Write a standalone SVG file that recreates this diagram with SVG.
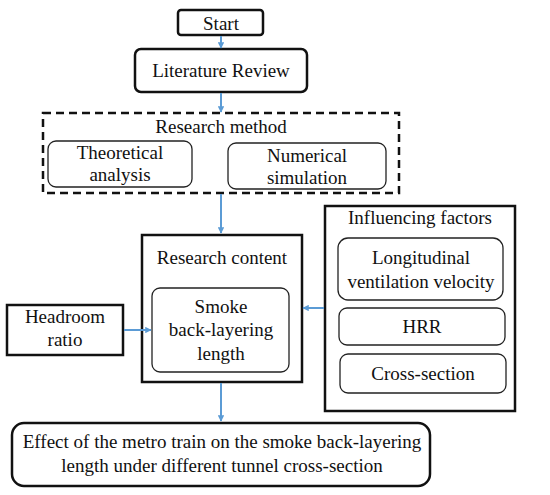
<svg xmlns="http://www.w3.org/2000/svg" width="550" height="495" viewBox="0 0 550 495">
<defs>
<style>
text{font-size:19px;fill:#111;text-anchor:middle}
.thick{fill:#fff;stroke:#111;stroke-width:2.5}
.thin{fill:#fff;stroke:#222;stroke-width:1.3}
.dash{fill:none;stroke:#111;stroke-width:2.5;stroke-dasharray:8,5}
.conn{stroke:#5b9bd5;stroke-width:2;fill:none;marker-end:url(#ah)}
</style>
<marker id="ah" viewBox="0 0 10 10" refX="9" refY="5" markerWidth="3.2" markerHeight="3.2" orient="auto" markerUnits="strokeWidth">
<path d="M0,0 L10,5 L0,10 z" fill="#5b9bd5"/>
</marker>
</defs>
<rect width="550" height="495" fill="#fff"/>
<g font-family="Liberation Serif, Times New Roman, serif">
<g id="start">
<rect class="thick" x="178" y="10" width="85" height="25" rx="3"/>
<text x="221" y="30">Start</text>
</g>
<g id="literature">
<rect class="thick" x="135" y="49" width="172" height="43" rx="6"/>
<text x="221" y="77">Literature Review</text>
</g>
<g id="method">
<rect class="dash" x="43" y="113" width="356" height="80"/>
<text x="221" y="133">Research method</text>
</g>
<g id="theoretical">
<rect class="thin" x="48" y="141" width="144" height="46" rx="8"/>
<text x="120" y="159">Theoretical</text>
<text x="120" y="181">analysis</text>
</g>
<g id="numerical">
<rect class="thin" x="228" y="143" width="158" height="46" rx="8"/>
<text x="307" y="162">Numerical</text>
<text x="307" y="184">simulation</text>
</g>
<g id="content">
<rect class="thick" x="142" y="235" width="160" height="147"/>
<text x="222" y="264">Research content</text>
</g>
<g id="smoke">
<rect class="thin" x="152" y="288" width="137" height="84" rx="8"/>
<text x="221" y="313">Smoke</text>
<text x="221" y="336">back-layering</text>
<text x="221" y="360">length</text>
</g>
<g id="factors">
<rect class="thick" x="325" y="206" width="190" height="205"/>
<text x="420" y="224">Influencing factors</text>
</g>
<g id="longitudinal">
<rect class="thin" x="338" y="238" width="165" height="62" rx="10"/>
<text x="421" y="264">Longitudinal</text>
<text x="421" y="288">ventilation velocity</text>
</g>
<g id="hrr">
<rect class="thin" x="339" y="308" width="166" height="37" rx="8"/>
<text x="422" y="333">HRR</text>
</g>
<g id="cross">
<rect class="thin" x="340" y="354" width="166" height="39" rx="8"/>
<text x="423" y="380">Cross-section</text>
</g>
<g id="headroom">
<rect class="thick" x="7" y="305" width="116" height="50"/>
<text x="65" y="323">Headroom</text>
<text x="65" y="346">ratio</text>
</g>
<g id="effect">
<rect class="thick" x="12" y="423" width="418" height="63" rx="12"/>
<text x="222" y="448">Effect of the metro train on the smoke back-layering</text>
<text x="222" y="472">length under different tunnel cross-section</text>
</g>
</g>
<g id="connectors">
<line class="conn" x1="221" y1="36" x2="221" y2="48"/>
<line class="conn" x1="221" y1="93" x2="221" y2="112"/>
<line class="conn" x1="221" y1="194" x2="221" y2="233"/>
<line class="conn" x1="324" y1="308" x2="303" y2="308"/>
<line class="conn" x1="124" y1="330" x2="151" y2="330"/>
<line class="conn" x1="221" y1="383" x2="221" y2="421"/>
</g>
</svg>
